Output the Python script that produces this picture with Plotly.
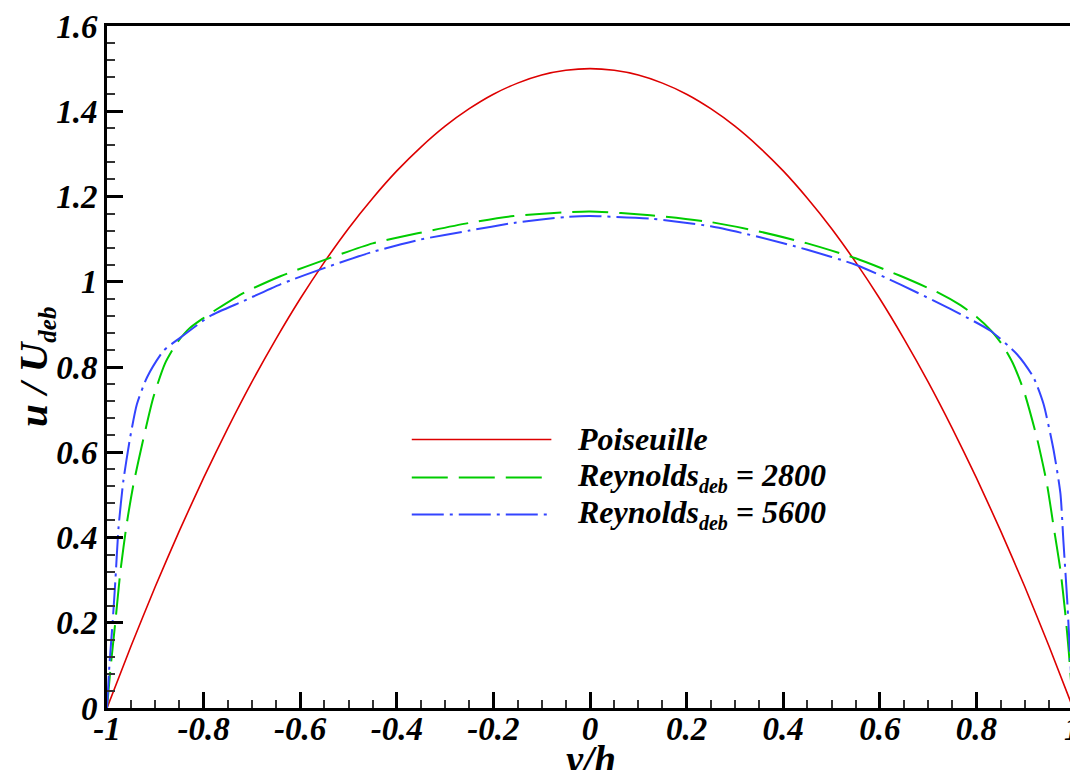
import plotly.graph_objects as go

# ---------------- data ----------------
pois_x = [-1.0, -0.95, -0.9, -0.85, -0.8, -0.75, -0.7, -0.65, -0.6, -0.55, -0.5, -0.45, -0.4,
          -0.35, -0.3, -0.25, -0.2, -0.15, -0.1, -0.05, 0.0, 0.05, 0.1, 0.15, 0.2, 0.25, 0.3,
          0.35, 0.4, 0.45, 0.5, 0.55, 0.6, 0.65, 0.7, 0.75, 0.8, 0.85, 0.9, 0.95, 1.0]
pois_u = [0.0, 0.146, 0.285, 0.416, 0.54, 0.656, 0.765, 0.866, 0.96, 1.046, 1.125, 1.196, 1.26,
          1.316, 1.365, 1.406, 1.44, 1.466, 1.485, 1.496, 1.5, 1.496, 1.485, 1.466, 1.44, 1.406,
          1.365, 1.316, 1.26, 1.196, 1.125, 1.046, 0.96, 0.866, 0.765, 0.656, 0.54, 0.416, 0.285,
          0.146, 0.0]

re2800_x = [-1.0, -0.993, -0.983, -0.972, -0.959, -0.945, -0.924, -0.904, -0.88, -0.855, -0.83,
            -0.8, -0.772, -0.717, -0.641, -0.538, -0.45, -0.351, -0.25, -0.158, -0.05, 0.0,
            0.125, 0.25, 0.35, 0.45, 0.55, 0.642, 0.72, 0.767, 0.80, 0.829, 0.855, 0.875, 0.898,
            0.925, 0.946, 0.96, 0.974, 0.984, 0.991, 1.0]
re2800_u = [0.0, 0.09, 0.199, 0.323, 0.433, 0.526, 0.635, 0.729, 0.808, 0.857, 0.89,
            0.915, 0.936, 0.974, 1.013, 1.056, 1.09, 1.115, 1.138, 1.154, 1.163, 1.165,
            1.156, 1.14, 1.118, 1.09, 1.055, 1.014, 0.975, 0.945, 0.918, 0.887, 0.85, 0.81, 0.745,
            0.635, 0.526, 0.425, 0.323, 0.222, 0.136, 0.0]

re5600_x = [-1.0, -0.995, -0.988, -0.983, -0.976, -0.966, -0.952, -0.938, -0.917, -0.883,
            -0.848, -0.786, -0.717, -0.641, -0.538, -0.45, -0.351, -0.25, -0.158, -0.05, 0.0,
            0.125, 0.25, 0.35, 0.45, 0.55, 0.642, 0.767, 0.829, 0.884, 0.918, 0.939, 0.96,
            0.974, 0.98, 0.988, 0.995, 1.0]
re5600_u = [0.0, 0.10, 0.207, 0.293, 0.425, 0.534, 0.635, 0.713, 0.776, 0.838,
            0.869, 0.92, 0.955, 0.994, 1.037, 1.07, 1.099, 1.12, 1.138, 1.152, 1.154,
            1.148, 1.13, 1.105, 1.075, 1.04, 0.994, 0.924, 0.885, 0.83, 0.776, 0.713, 0.604,
            0.503, 0.394, 0.253, 0.10, 0.0]

SUB = "<sub><span style='font-size:20px'>deb</span></sub>"
series_names = ["Poiseuille", "Reynolds" + SUB + " = 2800", "Reynolds" + SUB + " = 5600"]

x_tick_vals = [-1, -0.8, -0.6, -0.4, -0.2, 0, 0.2, 0.4, 0.6, 0.8]
x_tick_text = ["-1", "-0.8", "-0.6", "-0.4", "-0.2", "0", "0.2", "0.4", "0.6", "0.8"]
y_tick_vals = [0, 0.2, 0.4, 0.6, 0.8, 1.0, 1.2, 1.4, 1.6]
y_tick_text = ["0", "0.2", "0.4", "0.6", "0.8", "1", "1.2", "1.4", "1.6"]

# ---------------- styles ----------------
FONT = "Liberation Serif"
RED = "#dd0000"
GREEN = "#00cc00"
BLUE = "#3344ff"
styles = [
    dict(color=RED, width=1.6, dash="solid"),
    dict(color=GREEN, width=2, dash="36px,11px"),
    dict(color=BLUE, width=2, dash="32px,6px,3px,6px"),
]

fig = go.Figure()
for xs, us, name, st in zip([pois_x, re2800_x, re5600_x], [pois_u, re2800_u, re5600_u],
                            series_names, styles):
    fig.add_trace(go.Scatter(x=xs, y=us, mode="lines", name=name,
                             line=dict(**st, shape="spline", smoothing=0.6),
                             showlegend=False, cliponaxis=True))

# manual legend (long sample lines like the original)
leg_x0, leg_x1, leg_tx = -0.369, -0.080, -0.032
leg_y = [0.630, 0.541, 0.454]
for yy, name, st in zip(leg_y, series_names, styles):
    fig.add_shape(type="line", xref="x", yref="y", x0=leg_x0, x1=leg_x1, y0=yy, y1=yy,
                  line=dict(color=st["color"], width=st["width"], dash=st["dash"]))
    fig.add_annotation(xref="x", yref="y", x=leg_tx, y=yy, text=name, showarrow=False,
                       xanchor="left", yanchor="middle",
                       font=dict(family=FONT, size=32, color="black", weight="bold", style="italic"))

# axis titles
fig.add_annotation(xref="paper", yref="paper", x=0, y=0.5, xshift=-72,
                   text="u / U<sub><span style='font-size:25px'>deb</span></sub>",
                   textangle=-90, showarrow=False, xanchor="center", yanchor="middle",
                   font=dict(family=FONT, size=41, color="black", weight="bold", style="italic"))
fig.add_annotation(xref="paper", yref="paper", x=0.5, y=0, yshift=-28, text="y/h",
                   showarrow=False, xanchor="center", yanchor="top",
                   font=dict(family=FONT, size=39, color="black", weight="bold", style="italic"))
# partially visible "1" tick label at the cut right edge (x = 1 lies just past the window)
fig.add_annotation(xref="paper", yref="paper", x=1.0031, y=0, yshift=-1, text="1", showarrow=False,
                   xanchor="center", yanchor="top",
                   font=dict(family=FONT, size=33, color="black", weight="bold", style="italic"))

tickfont = dict(family=FONT, size=33, color="black", weight="bold", style="italic")
fig.update_xaxes(range=[-1, 0.9938], tickmode="array", tickvals=x_tick_vals, ticktext=x_tick_text,
                 ticks="inside", ticklen=16, tickwidth=3, tickcolor="black",
                 showline=True, linewidth=3, linecolor="black", mirror=True,
                 showgrid=False, zeroline=False, tickfont=tickfont, ticklabelstandoff=-11,
                 minor=dict(tickmode="linear", tick0=-1, dtick=0.05, ticks="inside", ticklen=8,
                            tickwidth=1.5, tickcolor="#333333", showgrid=False))
fig.update_yaxes(range=[0, 1.6], tickmode="array", tickvals=y_tick_vals, ticktext=y_tick_text,
                 ticks="inside", ticklen=16, tickwidth=3, tickcolor="black",
                 showline=True, linewidth=3, linecolor="black", mirror=False,
                 showgrid=False, zeroline=False, tickfont=tickfont,
                 minor=dict(tickmode="linear", tick0=0, dtick=0.04, ticks="inside", ticklen=8,
                            tickwidth=1.5, tickcolor="#333333", showgrid=False))

fig.update_layout(width=1070, height=770, margin=dict(l=107, r=0, t=26, b=62),
                  plot_bgcolor="white", paper_bgcolor="white", showlegend=False)

fig.write_html("out.html", config={"displayModeBar": False},
               post_script="document.body.style.margin='0';document.body.style.overflow='hidden';")
